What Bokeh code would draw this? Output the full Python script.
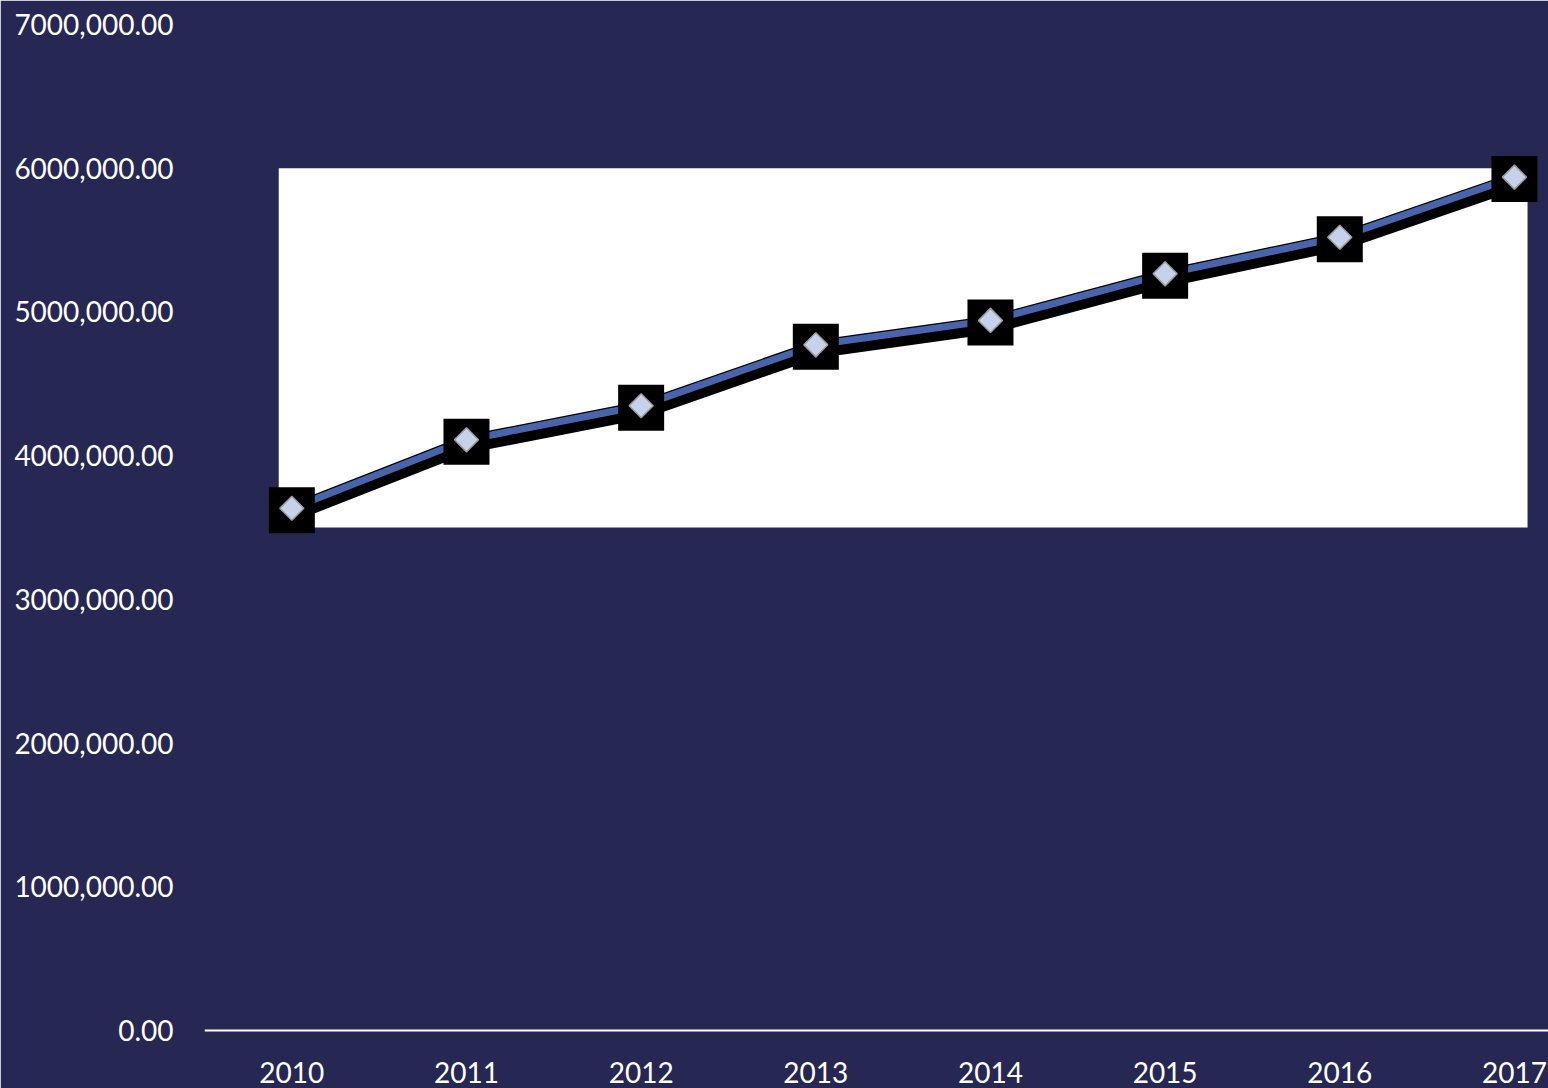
import numpy as np
from bokeh.plotting import figure
from bokeh.models import Range1d, FixedTicker
from bokeh.embed import file_html
from bokeh.resources import INLINE

# ---- data ----
years = [2010, 2011, 2012, 2013, 2014, 2015, 2016, 2017]
values = [3634000, 4110000, 4347000, 4771000, 4941000, 5265000, 5520000, 5938000]
y_ticks = [0, 1000000, 2000000, 3000000, 4000000, 5000000, 6000000, 7000000]
y_tick_labels = ["0.00", "1000,000.00", "2000,000.00", "3000,000.00",
                 "4000,000.00", "5000,000.00", "6000,000.00", "7000,000.00"]
x_tick_labels = [str(y) for y in years]
band_low, band_high = 3500000, 6000000   # white plot band

BG = "#262853"
FONT = "Lato"

W, H = 1548, 1088
TOP = 24
ZERO_Y = 1030          # figure px of value 0
PX_PER_UNIT = (ZERO_Y - TOP) / 7000000
y_start = -(H - ZERO_Y) / PX_PER_UNIT

p = figure(width=W, height=H, output_backend="svg", toolbar_location=None,
           x_range=Range1d(2009.5, 2017.195), y_range=Range1d(y_start, 7000000),
           min_border_left=204, min_border_right=0, min_border_top=TOP,
           min_border_bottom=0)
p.background_fill_color = BG
p.border_fill_color = BG
p.outline_line_color = BG
p.outline_line_width = 2
p.grid.visible = False

# white band
pad = 0.075
p.quad(left=[years[0] - pad], right=[years[-1] + pad], bottom=[band_low], top=[band_high],
       fill_color="white", line_color=None)

# shadow line (offset down a few px)
shadow_off = 6 / PX_PER_UNIT
p.line(years, [v - shadow_off for v in values], line_color="black", line_width=15,
       line_join="miter")
p.line(years, values, line_color="black", line_width=9.5, line_join="miter")
p.line(years, values, line_color="#4864AA", line_width=7, line_join="miter")

# markers
sq_off = 2 / PX_PER_UNIT
p.scatter(years, [v - sq_off for v in values], marker="square", size=46,
          fill_color="black", line_color=None)
p.scatter(years, values, marker="square", angle=np.pi / 4, size=17,
          fill_color="#c6d2ec", line_color="#9c9c9c", line_width=1.5)

# axes
xa = p.xaxis[0]
xa.fixed_location = 0
xa.ticker = FixedTicker(ticks=years)
xa.major_label_overrides = {y: s for y, s in zip(years, x_tick_labels)}
xa.axis_line_color = "white"
xa.axis_line_width = 2
xa.major_tick_line_color = None
xa.minor_tick_line_color = None
xa.major_tick_out = 0
xa.major_tick_in = 0
xa.major_label_standoff = 31
xa.major_label_text_color = "white"
xa.major_label_text_font = FONT
xa.major_label_text_font_size = "28px"

ya = p.yaxis[0]
ya.ticker = FixedTicker(ticks=y_ticks)
ya.major_label_overrides = {t: s for t, s in zip(y_ticks, y_tick_labels)}
ya.axis_line_color = None
ya.major_tick_line_color = None
ya.minor_tick_line_color = None
ya.major_tick_out = 0
ya.major_tick_in = 0
ya.major_label_standoff = 31
ya.major_label_text_color = "white"
ya.major_label_text_font = FONT
ya.major_label_text_font_size = "28px"

open("out.html", "w").write(file_html(p, INLINE))
